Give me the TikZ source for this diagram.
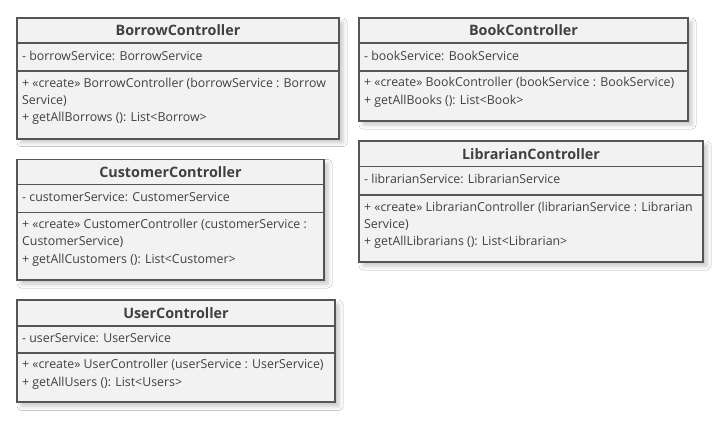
\documentclass[tikz,border=0pt]{standalone}
\usepackage{fontspec}
\setmainfont{Open Sans}
\usetikzlibrary{calc,shadows.blur}
\definecolor{boxfill}{HTML}{F2F2F2}
\definecolor{boxline}{HTML}{555555}
\definecolor{txt}{HTML}{404040}
\tikzset{
  classbox/.style={draw=boxline, line width=1.8bp, fill=boxfill, inner sep=0pt, outer sep=0pt,
    anchor=north west,
    blur shadow={shadow xshift=4bp, shadow yshift=-4bp, shadow blur radius=4bp, shadow opacity=22}},
  compsep/.style={draw=boxline, line width=1.6bp},
  titletext/.style={font=\fontsize{14.4}{17}\selectfont\bfseries, text=txt, inner sep=0pt},
  membertext/.style={font=\fontsize{12.4}{15}\selectfont, text=txt, anchor=west, inner sep=0pt,
    text height=9.4bp, text depth=3bp},
}
\begin{document}
\begin{tikzpicture}[x=1bp,y=-1bp]
\useasboundingbox[fill=white] (0,0) rectangle (723,423);

% BorrowController
\node[classbox, minimum width=322bp, minimum height=120.7bp] (borrow) at (17,18) {};
\draw[compsep] ($(borrow.north west)+(0,25)$) -- ($(borrow.north east)+(0,25)$);
\draw[compsep] ($(borrow.north west)+(0,53)$) -- ($(borrow.north east)+(0,53)$);
\node[titletext] (borrowT) at ($(borrow.north)+(0,12.5)$) {BorrowController};
\node[membertext] (borrowA) at ($(borrow.north west)+(5,39)$) {- borrowService: BorrowService};
\node[membertext] (borrowO1) at ($(borrow.north west)+(5,66)$) {+ «create» BorrowController (borrowService : Borrow};
\node[membertext] (borrowO2) at ($(borrow.north west)+(5,83)$) {Service)};
\node[membertext] (borrowO3) at ($(borrow.north west)+(5,100.5)$) {+ getAllBorrows (): List<Borrow>};

% BookController
\node[classbox, minimum width=329bp, minimum height=103bp] (book) at (359,18) {};
\draw[compsep] ($(book.north west)+(0,25)$) -- ($(book.north east)+(0,25)$);
\draw[compsep] ($(book.north west)+(0,53)$) -- ($(book.north east)+(0,53)$);
\node[titletext] (bookT) at ($(book.north)+(0,12.5)$) {BookController};
\node[membertext] (bookA) at ($(book.north west)+(5,39)$) {- bookService: BookService};
\node[membertext] (bookO1) at ($(book.north west)+(5,65.5)$) {+ «create» BookController (bookService : BookService)};
\node[membertext] (bookO2) at ($(book.north west)+(5,83)$) {+ getAllBooks (): List<Book>};

% CustomerController
\node[classbox, minimum width=307bp, minimum height=120.5bp] (cust) at (17,159.5) {};
\draw[compsep] ($(cust.north west)+(0,25)$) -- ($(cust.north east)+(0,25)$);
\draw[compsep] ($(cust.north west)+(0,53)$) -- ($(cust.north east)+(0,53)$);
\node[titletext] (custT) at ($(cust.north)+(0,12.5)$) {CustomerController};
\node[membertext] (custA) at ($(cust.north west)+(5,39)$) {- customerService: CustomerService};
\node[membertext] (custO1) at ($(cust.north west)+(5,65.8)$) {+ «create» CustomerController (customerService :};
\node[membertext] (custO2) at ($(cust.north west)+(5,82.8)$) {CustomerService)};
\node[membertext] (custO3) at ($(cust.north west)+(5,100.3)$) {+ getAllCustomers (): List<Customer>};

% LibrarianController
\node[classbox, minimum width=344bp, minimum height=121bp] (lib) at (359,141) {};
\draw[compsep] ($(lib.north west)+(0,25.5)$) -- ($(lib.north east)+(0,25.5)$);
\draw[compsep] ($(lib.north west)+(0,54)$) -- ($(lib.north east)+(0,54)$);
\node[titletext] (libT) at ($(lib.north)+(0,12.8)$) {LibrarianController};
\node[membertext] (libA) at ($(lib.north west)+(5,39.7)$) {- librarianService: LibrarianService};
\node[membertext] (libO1) at ($(lib.north west)+(5,67)$) {+ «create» LibrarianController (librarianService : Librarian};
\node[membertext] (libO2) at ($(lib.north west)+(5,84)$) {Service)};
\node[membertext] (libO3) at ($(lib.north west)+(5,101.7)$) {+ getAllLibrarians (): List<Librarian>};

% UserController
\node[classbox, minimum width=318bp, minimum height=102.3bp] (user) at (17,300) {};
\draw[compsep] ($(user.north west)+(0,26)$) -- ($(user.north east)+(0,26)$);
\draw[compsep] ($(user.north west)+(0,53)$) -- ($(user.north east)+(0,53)$);
\node[titletext] (userT) at ($(user.north)+(0,13)$) {UserController};
\node[membertext] (userA) at ($(user.north west)+(5,39.5)$) {- userService: UserService};
\node[membertext] (userO1) at ($(user.north west)+(5,65)$) {+ «create» UserController (userService : UserService)};
\node[membertext] (userO2) at ($(user.north west)+(5,83)$) {+ getAllUsers (): List<Users>};
\end{tikzpicture}
\end{document}
